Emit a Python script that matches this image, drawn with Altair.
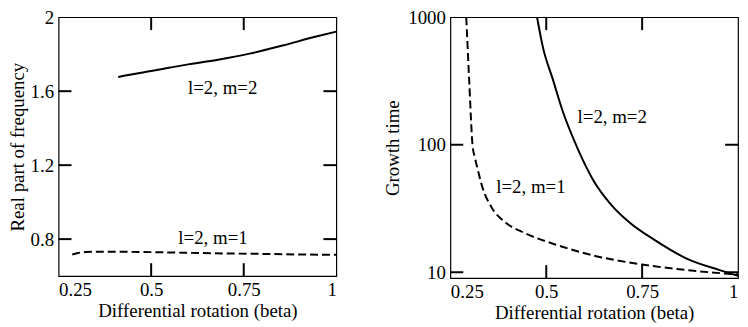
import altair as alt
import pandas as pd

# ---------------- data ----------------
beta_re_m2 = [0.411, 0.45, 0.5, 0.544, 0.6, 0.677, 0.766, 0.855, 0.943, 1.0]
re_m2 = [1.677, 1.692, 1.709, 1.725, 1.745, 1.769, 1.803, 1.847, 1.894, 1.922]

beta_re_m1 = [0.287, 0.3, 0.323, 0.36, 0.447, 0.55, 0.624, 0.72, 0.801, 0.9, 1.0]
re_m1 = [0.717, 0.724, 0.730, 0.732, 0.731, 0.728, 0.725, 0.722, 0.720, 0.717, 0.715]

beta_gt_m2 = [0.476, 0.4912, 0.517, 0.5429, 0.5688, 0.5946, 0.6249, 0.6678,
              0.7195, 0.78, 0.866, 0.952, 1.0]
gt_m2 = [1000, 583, 327, 183, 115, 76.7, 51.2, 34.2, 24.2, 18.1, 12.8, 10.4, 9.4]

beta_gt_m1 = [0.2914, 0.2991, 0.3077, 0.3141, 0.3219, 0.3317, 0.3576, 0.3922,
              0.4439, 0.5215, 0.6249, 0.7497, 0.866, 1.0]
gt_m1 = [1000, 318, 100, 79, 63, 48.3, 32.2, 24.8, 20.3, 16.6, 13.5, 11.5, 10.4, 9.6]

x_ticks = [0.25, 0.5, 0.75, 1.0]
y_ticks_left = [0.8, 1.2, 1.6, 2.0]
y_ticks_right = [10, 100, 1000]

labels_left = ["l=2, m=2", "l=2, m=1"]
labels_left_beta = [0.693, 0.667]
labels_left_val = [1.616, 0.805]

labels_right = ["l=2, m=2", "l=2, m=1"]
labels_right_beta = [0.672, 0.46]
labels_right_val = [164, 47]

x_title = "Differential rotation (beta)"
y_title_left = "Real part of frequency"
y_title_right = "Growth time"

# ---------------- styling ----------------
FONT = "Liberation Serif"
FS = 19
TL = 13  # inward tick length
LW = 2

W1, H1 = 280, 261
W2, H2 = 290, 263


def build_panel(beta_a, val_a, beta_b, val_b, dash_b,
                lab, lab_b, lab_v, yticks, ydomain, ytitle, yscale_type,
                W, H, title_pad):
    xs = alt.Scale(domain=[0.25, 1.0], nice=False, zero=False)
    if yscale_type == "log":
        ys = alt.Scale(type="log", domain=ydomain, nice=False)
    else:
        ys = alt.Scale(domain=ydomain, nice=False, zero=False)

    xaxis = alt.Axis(values=x_ticks, format=".4~g", title=x_title,
                     labelPadding=5, titlePadding=2)
    yaxis = alt.Axis(values=yticks, format=".4~g", title=ytitle,
                     labelPadding=5, titlePadding=title_pad)

    X = alt.X("beta:Q", scale=xs, axis=xaxis)
    Y = alt.Y("val:Q", scale=ys, axis=yaxis)

    df_a = pd.DataFrame({"beta": beta_a, "val": val_a})
    df_b = pd.DataFrame({"beta": beta_b, "val": val_b})
    line_a = alt.Chart(df_a).mark_line(
        color="black", strokeWidth=LW, interpolate="monotone", clip=True
    ).encode(x=X, y=Y)
    line_b = alt.Chart(df_b).mark_line(
        color="black", strokeWidth=LW, interpolate="monotone", clip=True,
        strokeDash=dash_b
    ).encode(x=X, y=Y)

    df_lab = pd.DataFrame({"beta": lab_b, "val": lab_v, "txt": lab})
    text = alt.Chart(df_lab).mark_text(
        font=FONT, fontSize=FS, color="black", align="center", baseline="middle"
    ).encode(x=X, y=Y, text="txt:N")

    # inward tick marks on all four sides of the frame
    df_xt = pd.DataFrame({"tx": x_ticks[1:-1]})
    df_yt = pd.DataFrame({"ty": yticks[:-1]})
    TX = alt.X("tx:Q", scale=xs, axis=xaxis)
    TY = alt.Y("ty:Q", scale=ys, axis=yaxis)
    bottom = alt.Chart(df_xt).mark_rule(color="black", strokeWidth=2).encode(
        x=TX, y=alt.value(H), y2=alt.value(H - TL))
    top = alt.Chart(df_xt).mark_rule(color="black", strokeWidth=2).encode(
        x=TX, y=alt.value(0), y2=alt.value(TL))
    left = alt.Chart(df_yt).mark_rule(color="black", strokeWidth=2).encode(
        y=TY, x=alt.value(0), x2=alt.value(TL))
    right = alt.Chart(df_yt).mark_rule(color="black", strokeWidth=2).encode(
        y=TY, x=alt.value(W - TL), x2=alt.value(W))

    return alt.layer(line_a, line_b, text, bottom, top, left, right).properties(
        width=W, height=H)


left_panel = build_panel(beta_re_m2, re_m2, beta_re_m1, re_m1, [8, 4],
                         labels_left, labels_left_beta, labels_left_val,
                         y_ticks_left, [0.6, 2.0], y_title_left, "linear",
                         W1, H1, 3)
right_panel = build_panel(beta_gt_m2, gt_m2, beta_gt_m1, gt_m1, [8, 4],
                          labels_right, labels_right_beta, labels_right_val,
                          y_ticks_right, [9, 1000], y_title_right, "log",
                          W2, H2, 5)

chart = alt.hconcat(left_panel, right_panel, spacing=45).properties(
    padding={"top": -2, "left": -1, "right": 0, "bottom": 0},
    background="white",
).configure_view(
    stroke="black", strokeWidth=1.2
).configure_axis(
    ticks=False, domain=False, grid=False,
    labelFont=FONT, labelFontSize=FS, labelColor="black",
    titleFont=FONT, titleFontSize=FS, titleFontWeight="normal", titleColor="black"
)

chart.save("out.html", embed_options={"renderer": "svg", "actions": False})
